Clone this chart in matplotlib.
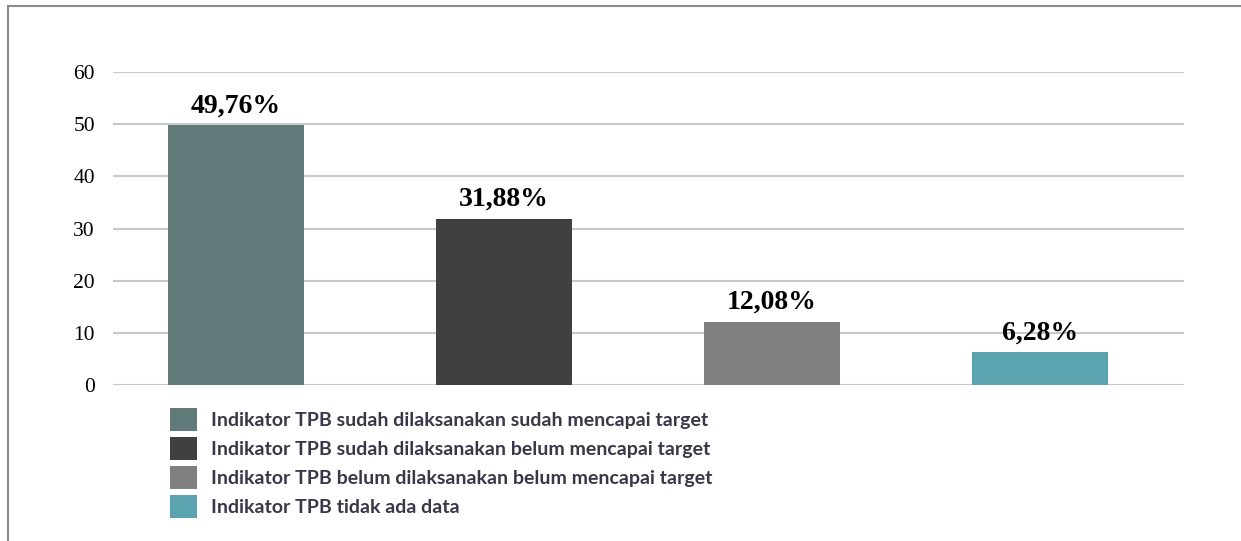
import matplotlib.pyplot as plt
from matplotlib.patches import Rectangle

# data
categories = ['Indikator TPB sudah dilaksanakan sudah mencapai target',
              'Indikator TPB sudah dilaksanakan belum mencapai target',
              'Indikator TPB belum dilaksanakan belum mencapai target',
              'Indikator TPB tidak ada data']
values = [49.76, 31.88, 12.08, 6.28]
labels = ['49,76%', '31,88%', '12,08%', '6,28%']
colors = ['#617A7A', '#404040', '#808080', '#5BA3AF']

fig = plt.figure(figsize=(12.41, 5.41), dpi=100)
ax = fig.add_axes([113/1241, 1-385/541, (1184-113)/1241, (385-72)/541])

x = range(len(values))
bars = ax.bar(x, values, width=0.51, color=colors, zorder=2)

for b, lab in zip(bars, labels):
    ax.annotate(lab, (b.get_x() + b.get_width()/2, b.get_height()),
                xytext=(0, 5), textcoords='offset points', ha='center', va='bottom',
                fontsize=20, fontweight='bold', family='Liberation Serif', color='black')

ax.set_xlim(-0.459, 3.537)
ax.set_ylim(0, 60)
ax.set_yticks(range(0, 61, 10))
ax.set_xticks([])
ax.tick_params(axis='y', length=0, pad=13, labelsize=15.5)
for t in ax.get_yticklabels():
    t.set_family('Liberation Serif')
ax.grid(axis='y', color='#C8C8C8', lw=1.5, zorder=0)
for s in ax.spines.values():
    s.set_visible(False)

fig.legend(bars, categories, loc='upper left', bbox_to_anchor=(170/1241, 1-408/541),
           frameon=False, prop={'family': 'Lato', 'weight': 'bold', 'size': 14},
           labelcolor='#383848', handlelength=1.39, handleheight=1.46,
           labelspacing=0.3, handletextpad=0.72, borderpad=0, borderaxespad=0)

# outer frame of the chart area
fig.patches.append(Rectangle((8/1241, -0.1), 1.1, 1.1 - 6/541, transform=fig.transFigure,
                             fill=False, edgecolor='#8A8A8A', lw=1.5))

fig.savefig('out.png', dpi=100)
